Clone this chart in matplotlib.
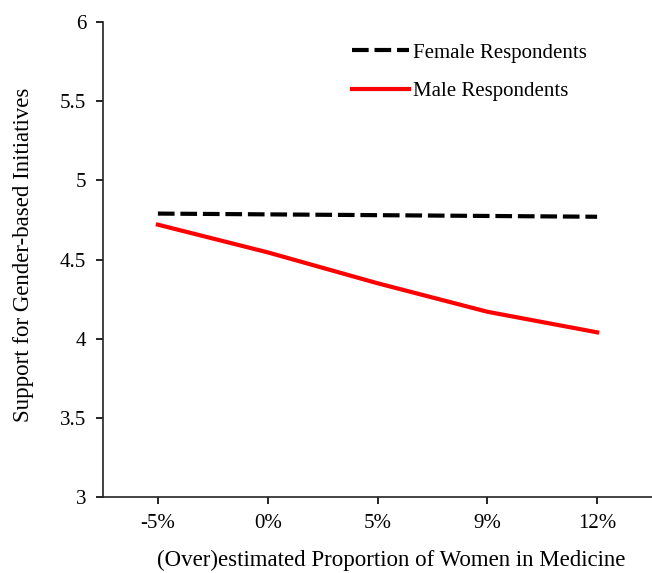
import numpy as np
import matplotlib
matplotlib.use("Agg")
import matplotlib.pyplot as plt

# Data
categories = ["-5%", "0%", "5%", "9%", "12%"]
female = [4.79, 4.785, 4.78, 4.775, 4.77]
male = [4.72, 4.545, 4.35, 4.17, 4.04]

plt.rcParams["font.family"] = ["Liberation Serif", "DejaVu Serif"]
plt.rcParams["font.size"] = 15

fig = plt.figure(figsize=(6.52, 5.73), dpi=100)
ax = fig.add_axes([103 / 652, 1 - 497 / 573, 549 / 652, 475 / 573])

x = np.arange(len(categories))
ax.plot(x, female, color="black", lw=3, dashes=(4, 1.4), label="Female Respondents")
ax.plot(x, male, color="#ff0000", lw=3, label="Male Respondents")

ax.set_xlim(-0.5, len(categories) - 0.5)
ax.set_ylim(3, 6)
ax.set_yticks(np.arange(3, 6.01, 0.5))
ax.set_yticklabels(["3", "3.5", "4", "4.5", "5", "5.5", "6"])
ax.set_xticks(x)
ax.set_xticklabels(categories)

for s in ["top", "right"]:
    ax.spines[s].set_visible(False)
for s in ["left", "bottom"]:
    ax.spines[s].set_linewidth(1.2)
    ax.spines[s].set_color("#222222")
ax.tick_params(axis="y", direction="out", length=5, width=1.2, pad=7)
ax.tick_params(axis="x", direction="out", length=5, width=1.2, pad=7)

ax.set_ylabel("Support for Gender-based Initiatives", fontsize=16.5, labelpad=19)
ax.set_xlabel("(Over)estimated Proportion of Women in Medicine", fontsize=16.5, labelpad=12)
ax.yaxis.label.set_y(0.51)
ax.xaxis.label.set_x(0.525)

ax.legend(loc="upper left", bbox_to_anchor=(0.42, 0.995), frameon=False,
          handlelength=2.7, handletextpad=0.2, labelspacing=0.9)

fig.savefig("out.png", dpi=100)
